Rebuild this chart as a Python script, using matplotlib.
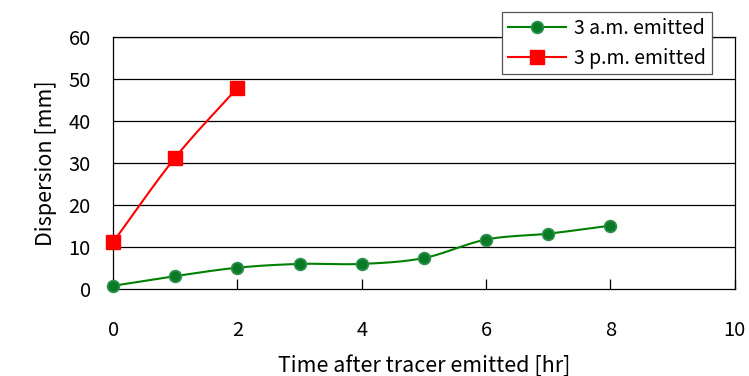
import matplotlib.pyplot as plt
import numpy as np

plt.rcParams['font.family'] = ['Noto Sans CJK JP', 'DejaVu Sans']

# data
am_hours = [0, 1, 2, 3, 4, 5, 6, 7, 8]
am_disp = [0.8, 3.1, 5.1, 6.0, 6.0, 7.4, 11.8, 13.2, 15.1]
pm_hours = [0, 1, 2]
pm_disp = [11.2, 31.3, 47.9]


def smooth(x, y, n=20):
    # Catmull-Rom curve through the points, like Excel's smoothed line
    x = np.asarray(x, float)
    y = np.asarray(y, float)
    px = np.concatenate([[2 * x[0] - x[1]], x, [2 * x[-1] - x[-2]]])
    py = np.concatenate([[2 * y[0] - y[1]], y, [2 * y[-1] - y[-2]]])
    xs, ys = [], []
    t = np.linspace(0, 1, n)
    for i in range(1, len(px) - 2):
        for p, out in ((px, xs), (py, ys)):
            p0, p1, p2, p3 = p[i - 1], p[i], p[i + 1], p[i + 2]
            out.extend(0.5 * (2 * p1 + (-p0 + p2) * t
                              + (2 * p0 - 5 * p1 + 4 * p2 - p3) * t ** 2
                              + (-p0 + 3 * p1 - 3 * p2 + p3) * t ** 3))
    return xs, ys


fig = plt.figure(figsize=(7.49, 3.76), dpi=100)
ax = fig.add_axes([0.151, 0.231, 0.830, 0.671])

for y in range(10, 61, 10):
    ax.axhline(y, color='black', lw=0.9, zorder=1)

sx, sy = smooth(am_hours, am_disp)
ax.plot(sx, sy, color='#008000', lw=1.5, zorder=2)
ax.plot(am_hours, am_disp, 'o', color='#0A7A25', mec='#2E9150', mew=1.2,
        ms=8.5, zorder=3, clip_on=False)
sx, sy = smooth(pm_hours, pm_disp)
ax.plot(sx, sy, color='#FF0000', lw=1.5, zorder=2)
ax.plot(pm_hours, pm_disp, 's', color='#FF0000', ms=10, zorder=3,
        clip_on=False)

# legend handles
h1, = ax.plot([], [], '-o', color='#008000', mfc='#0A7A25', mec='#2E9150',
              mew=1.2, ms=8.5, lw=1.5)
h2, = ax.plot([], [], '-s', color='#FF0000', ms=10, lw=1.5)

ax.set_xlim(0, 10)
ax.set_ylim(0, 60)
ax.set_xticks(range(0, 11, 2))
ax.set_yticks(range(0, 61, 10))
ax.tick_params(axis='x', direction='in', length=7, width=0.9, pad=22,
               labelsize=14.5)
ax.tick_params(axis='y', length=0, pad=16, labelsize=14.5)
for s in ax.spines.values():
    s.set_linewidth(0.9)

ax.set_xlabel('Time after tracer emitted [hr]', fontsize=15.5, labelpad=10)
ax.set_ylabel('Dispersion [mm]', fontsize=15.5, labelpad=8)

leg = fig.legend([h1, h2], ['3 a.m. emitted', '3 p.m. emitted'],
                 loc='upper left', bbox_to_anchor=(502 / 749, 1 - 12 / 376),
                 fontsize=14, fancybox=False, edgecolor='#555555',
                 framealpha=1, handlelength=3, borderpad=0.3,
                 labelspacing=0.45, handletextpad=0.4, borderaxespad=0)
leg.get_frame().set_linewidth(0.9)

fig.savefig('out.png', dpi=100)
